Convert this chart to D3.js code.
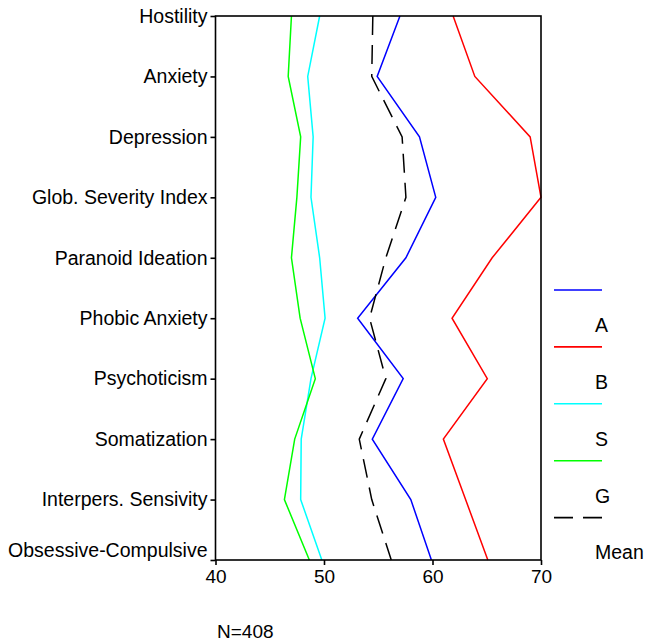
<!DOCTYPE html>
<html lang="en">
<head>
<meta charset="UTF-8">
<title>Profile plot</title>
<script src="https://d3js.org/d3.v7.min.js"></script>
<style>
    body { margin: 0; background: #fff; }
    svg text { font-family: 'Liberation Sans', Arial, sans-serif; font-size: 19px; fill: #000; }
    .ylab text { font-size: 19.5px; }
    .legend text { font-size: 19.5px; }
    .profile { fill: none; stroke-width: 1.5px; stroke-linejoin: miter; }
</style>
</head>
<body>
<svg width="645" height="642"></svg>
<script>
    const scales = ["Hostility", "Anxiety", "Depression", "Glob. Severity Index", "Paranoid Ideation",
        "Phobic Anxiety", "Psychoticism", "Somatization", "Interpers. Sensivity", "Obsessive-Compulsive"];

    const groupA = [57.0, 54.9, 58.8, 60.3, 57.55, 53.1, 57.3, 54.45, 58.0, 59.9];
    const groupB = [61.9, 63.9, 69.0, 70.0, 65.5, 61.8, 65.05, 61.0, 63.05, 65.1];
    const groupS = [49.6, 48.5, 49.0, 48.8, 49.6, 50.1, 48.8, 47.9, 47.85, 49.8];
    const groupG = [47.0, 46.7, 47.85, 47.5, 47.0, 47.8, 49.2, 47.3, 46.35, 48.65];
    const groupMean = [54.5, 54.4, 57.2, 57.55, 55.7, 54.2, 55.7, 53.25, 54.4, 56.2];

    const xTicks = [40, 50, 60, 70];

    const series = [
        { name: "A", values: groupA, color: "#0000ff", dash: null },
        { name: "B", values: groupB, color: "#ff0000", dash: null },
        { name: "S", values: groupS, color: "#00ffff", dash: null },
        { name: "G", values: groupG, color: "#00ff00", dash: null },
        { name: "Mean", values: groupMean, color: "#000000", dash: "19,10" }
    ];

    const svg = d3.select("svg");
    const mLeft = 215.5, mRight = 541, mTop = 16, mBottom = 560;

    const x = d3.scaleLinear().domain([40, 70]).range([mLeft, mRight]);
    const y = d3.scalePoint().domain(scales).range([mTop, mBottom]);

    // lines
    const line = d3.line()
        .x(function (d) { return x(d.v); })
        .y(function (d) { return y(d.k); });

    svg.append("g").selectAll("path")
        .data(series)
        .enter()
        .append("path")
        .attr("class", "profile")
        .attr("stroke", function (s) { return s.color; })
        .attr("stroke-dasharray", function (s) { return s.dash; })
        .attr("d", function (s) {
            return line(s.values.map(function (v, i) { return { k: scales[i], v: v }; }));
        });

    // frame
    svg.append("rect")
        .attr("x", mLeft).attr("y", mTop)
        .attr("width", mRight - mLeft).attr("height", mBottom - mTop)
        .attr("fill", "none").attr("stroke", "#000").attr("stroke-width", 1.6);

    // y axis
    const yAxis = svg.append("g")
        .attr("class", "ylab")
        .attr("transform", "translate(" + mLeft + ",0)")
        .call(d3.axisLeft(y).tickSize(5).tickPadding(3));
    yAxis.select(".domain").remove();
    yAxis.selectAll("line").attr("stroke-width", 1.6);
    yAxis.selectAll("text").attr("font-size", null).attr("font-family", null);
    yAxis.selectAll(".tick").filter(function (d) { return d === "Obsessive-Compulsive"; })
        .select("text").attr("dy", "-0.2em");

    // x axis
    const xAxis = svg.append("g")
        .attr("transform", "translate(0," + mBottom + ")")
        .call(d3.axisBottom(x).tickValues(xTicks).tickSize(5).tickPadding(5));
    xAxis.select(".domain").remove();
    xAxis.selectAll("line").attr("stroke-width", 1.6);
    xAxis.selectAll("text").attr("font-size", null).attr("font-family", null);

    svg.append("text").attr("x", 217).attr("y", 638).text("N=408");

    // legend
    const legend = svg.append("g").attr("class", "legend").selectAll("g")
        .data(series)
        .enter()
        .append("g")
        .attr("transform", function (s, i) { return "translate(554," + (290 + i * 56.9) + ")"; });
    legend.append("line")
        .attr("x1", 0).attr("x2", 48)
        .attr("stroke", function (s) { return s.color; })
        .attr("stroke-width", 1.6)
        .attr("stroke-dasharray", function (s) { return s.dash; });
    legend.append("text")
        .attr("x", 41).attr("y", 35)
        .attr("dy", "0.35em")
        .text(function (s) { return s.name; });
</script>
</body>
</html>
